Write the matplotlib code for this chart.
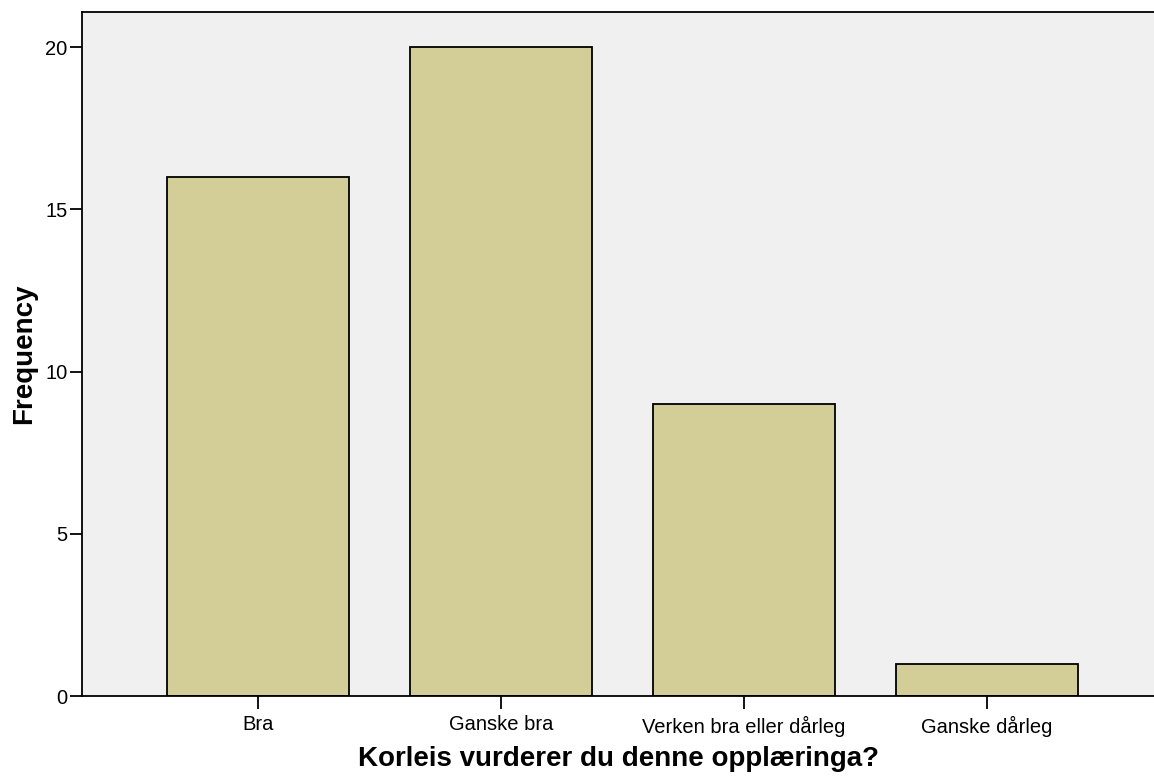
import matplotlib
matplotlib.use("Agg")
import matplotlib.pyplot as plt

# Data
categories = ["Bra", "Ganske bra", "Verken bra eller dårleg", "Ganske dårleg"]
frequency = [16, 20, 9, 1]
yticks = [0, 5, 10, 15, 20]

plt.rcParams["font.family"] = ["Liberation Sans", "DejaVu Sans"]

fig = plt.figure(figsize=(11.54, 7.76), dpi=100)
ax = fig.add_axes([82 / 1154, 80 / 776, 1 - 82 / 1154, 684 / 776])
ax.set_facecolor("#f0f0f0")

x = range(len(categories))
ax.bar(x, frequency, width=0.75, color="#d3ce98", edgecolor="black", linewidth=1.3, zorder=2)

ax.set_xlim(-0.724, 3.687)
ax.set_ylim(0, 21.08)
ax.set_xticks(list(x))
ax.set_xticklabels(categories, fontsize=14.5)
ax.set_yticks(yticks)
ax.set_yticklabels([str(v) for v in yticks], fontsize=14.5)
ax.tick_params(direction="out", length=9, width=1.3)
ax.tick_params(axis="y", pad=1.5)
ax.tick_params(axis="x", pad=5)

ax.spines["right"].set_visible(False)
for s in ["left", "bottom", "top"]:
    ax.spines[s].set_linewidth(1.3)

ax.set_xlabel("Korleis vurderer du denne opplæringa?", fontsize=20, fontweight="bold", labelpad=7)
ax.set_ylabel("Frequency", fontsize=20, fontweight="bold", labelpad=6)

fig.savefig("out.png", dpi=100)
